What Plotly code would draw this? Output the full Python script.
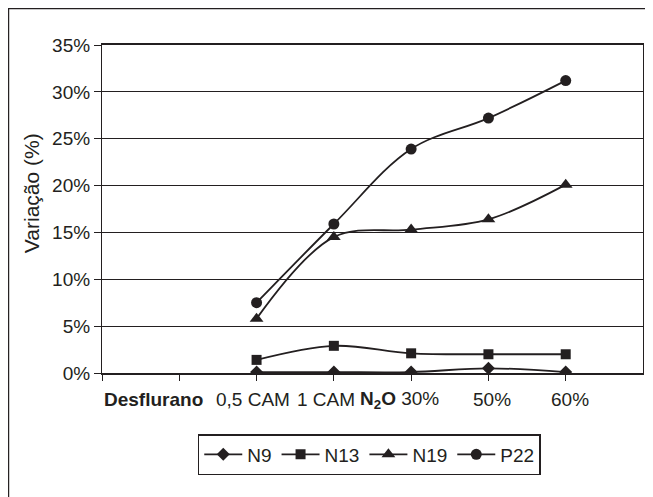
import plotly.graph_objs as go

# categories on the x axis (index 2..6 carry data)
stages = [2, 3, 4, 5, 6]
x_labels = ["<b>Desflurano</b>", "0,5 CAM", "1 CAM", "<b>N<sub>2</sub>O</b> 30%", "50%", "60%"]
label_pos = [0.66, 1.95, 2.9, 3.85, 5.05, 6.05]

y_vals = [0, 5, 10, 15, 20, 25, 30, 35]
y_text = ["0%", "5%", "10%", "15%", "20%", "25%", "30%", "35%"]

n9 = [0.1, 0.1, 0.1, 0.5, 0.1]
n13 = [1.4, 2.9, 2.1, 2.0, 2.0]
n19 = [5.8, 14.5, 15.3, 16.4, 20.1]
p22 = [7.5, 15.9, 23.9, 27.2, 31.2]

ink = '#231f20'
family = 'Liberation Sans, Arial, sans-serif'
font = dict(family=family, size=19, color=ink)

fig = go.Figure()

series = [
    ('N9', n9, 'diamond', 10),
    ('N13', n13, 'square', 10),
    ('N19', n19, 'triangle-up', 12),
    ('P22', p22, 'circle', 11),
]
for name, vals, sym, sz in series:
    fig.add_trace(
        go.Scatter(
            x=stages,
            y=vals,
            mode='lines+markers',
            name=name,
            line=dict(color=ink, width=1.8, shape='spline'),
            marker=dict(symbol=sym, color=ink, size=sz)
        )
    )

# category labels under the axis
for txt, pos in zip(x_labels, label_pos):
    fig.add_annotation(
        x=pos, y=-0.082, xref='x', yref='paper',
        text=txt, showarrow=False, font=font,
        xanchor='center', yanchor='middle'
    )

# y axis title
fig.add_annotation(
    x=-0.129, y=0.549, xref='paper', yref='paper',
    text='Variação (%)', showarrow=False, textangle=-90,
    font=dict(family=family, size=21, color=ink),
    xanchor='center', yanchor='middle'
)

# outer chart frame
fig.add_shape(
    type='rect', xref='paper', yref='paper',
    x0=-0.1726, x1=1.0074, y0=-0.45, y1=1.111,
    line=dict(color=ink, width=1.2), layer='below'
)

fig.update_layout(
    width=645, height=489,
    margin=dict(l=94, r=10, t=37, b=124),
    paper_bgcolor='white',
    plot_bgcolor='white',
    font=font,
    showlegend=True,
    legend=dict(
        orientation='h',
        x=0.494, y=-0.186, xanchor='center', yanchor='top',
        bordercolor=ink, borderwidth=1.5,
        font=dict(family=family, size=19, color=ink),
        itemwidth=38,
        tracegroupgap=0
    ),
    xaxis=dict(
        range=[0, 7],
        tickvals=[0, 1, 2, 3, 4, 5, 6],
        showticklabels=False,
        ticks='outside', ticklen=6, tickcolor=ink,
        showgrid=False, zeroline=False,
        showline=True, linecolor=ink, linewidth=1.5, mirror=True
    ),
    yaxis=dict(
        range=[0, 35],
        tickvals=y_vals,
        ticktext=y_text,
        ticks='outside', ticklen=7, tickcolor=ink,
        showgrid=True, gridcolor=ink, gridwidth=1.2,
        zeroline=False,
        showline=True, linecolor=ink, linewidth=1.2, mirror=True
    )
)

fig.write_html("out.html")
